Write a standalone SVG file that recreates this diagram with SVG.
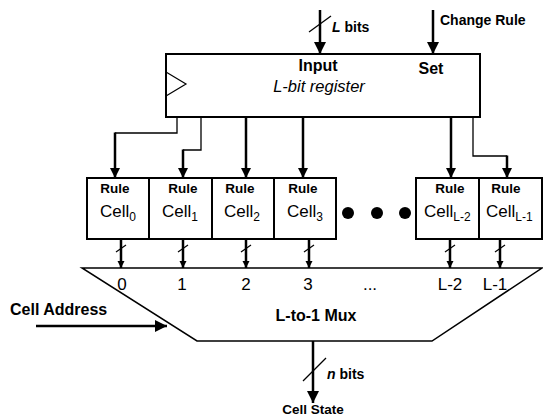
<svg xmlns="http://www.w3.org/2000/svg" width="543" height="417" viewBox="0 0 543 417">
<style>
.b{font-family:"Liberation Sans",Arial,sans-serif;font-weight:bold;fill:#000}
.r{font-family:"Liberation Sans",Arial,sans-serif;fill:#000}
.box{fill:#fff;stroke:#000;stroke-width:2}
.w{fill:none;stroke:#000;stroke-width:2.5}
.t{fill:none;stroke:#000;stroke-width:1.3}
.s{fill:none;stroke:#000;stroke-width:1.2}
.rule{font-size:13.5px}
.cell{font-size:17px}
.sub{font-size:12px}
</style>
<defs>
<marker id="ah" markerUnits="userSpaceOnUse" markerWidth="14" markerHeight="12" refX="12" refY="6" orient="auto"><path d="M0,0 L12,6 L0,12 Z" fill="#000"/></marker>
<marker id="am" markerUnits="userSpaceOnUse" markerWidth="11" markerHeight="11" refX="10" refY="5" orient="auto"><path d="M0,0 L10,5 L0,10 Z" fill="#000"/></marker>
<marker id="as" markerUnits="userSpaceOnUse" markerWidth="8" markerHeight="8" refX="7" refY="3.5" orient="auto"><path d="M0,0 L7,3.5 L0,7 Z" fill="#000"/></marker>
</defs>
<g id="register">
<rect class="box" x="166" y="54" width="314" height="63"/>
<polyline class="s" points="166,72 186,84 166,96"/>
<text class="b" x="318" y="71" font-size="16" text-anchor="middle">Input</text>
<text class="b" x="431" y="74" font-size="16" text-anchor="middle">Set</text>
<text class="r" x="319" y="92" font-size="16.5" font-style="italic" text-anchor="middle">L-bit register</text>
</g>
<g id="cells">
<g id="cell0"><rect class="box" x="87" y="178" width="62" height="61"/><text class="b rule" x="115" y="193" text-anchor="middle">Rule</text><text class="r cell" x="100" y="217">Cell<tspan class="sub" dy="4">0</tspan></text></g>
<g id="cell1"><rect class="box" x="149" y="178" width="63" height="61"/><text class="b rule" x="183" y="193" text-anchor="middle">Rule</text><text class="r cell" x="162" y="217">Cell<tspan class="sub" dy="4">1</tspan></text></g>
<g id="cell2"><rect class="box" x="212" y="178" width="62" height="61"/><text class="b rule" x="240" y="193" text-anchor="middle">Rule</text><text class="r cell" x="224" y="217">Cell<tspan class="sub" dy="4">2</tspan></text></g>
<g id="cell3"><rect class="box" x="274" y="178" width="62" height="61"/><text class="b rule" x="303" y="193" text-anchor="middle">Rule</text><text class="r cell" x="287" y="217">Cell<tspan class="sub" dy="4">3</tspan></text></g>
<g id="dots"><circle cx="348" cy="213" r="6"/><circle cx="377" cy="213" r="6"/><circle cx="405" cy="213" r="6"/></g>
<g id="cellL2"><rect class="box" x="416" y="178" width="63" height="61"/><text class="b rule" x="450" y="193" text-anchor="middle">Rule</text><text class="r cell" x="424" y="217">Cell<tspan class="sub" dy="4">L-2</tspan></text></g>
<g id="cellL1"><rect class="box" x="479" y="178" width="63" height="61"/><text class="b rule" x="506" y="193" text-anchor="middle">Rule</text><text class="r cell" x="486" y="217">Cell<tspan class="sub" dy="4">L-1</tspan></text></g>
</g>
<g id="mux">
<polygon fill="#fff" stroke="#000" stroke-width="1.5" points="82,268 542,268 432,341 197,341"/>
<g class="r" font-size="17" text-anchor="middle">
<text x="122" y="290">0</text><text x="182" y="290">1</text><text x="246" y="290">2</text><text x="308" y="290">3</text><text x="370" y="290">...</text><text x="450" y="290">L-2</text><text x="495" y="290">L-1</text>
</g>
<text class="b" x="316" y="321" font-size="16" text-anchor="middle">L-to-1 Mux</text>
</g>
<g id="labels">
<text class="b" x="332" y="32" font-size="14"><tspan font-style="italic">L</tspan> bits</text>
<text class="b" x="440" y="25" font-size="14">Change Rule</text>
<text class="b" x="10" y="315" font-size="16">Cell Address</text>
<text class="b" x="327" y="379" font-size="14"><tspan font-style="italic">n</tspan> bits</text>
<text class="b" x="313" y="414" font-size="13.5" text-anchor="middle">Cell State</text>
</g>
<g id="connectors">
<line class="w" x1="320" y1="10" x2="320" y2="54" marker-end="url(#ah)"/>
<line class="s" x1="309" y1="32" x2="331" y2="16"/>
<line class="w" x1="433" y1="10" x2="433" y2="54" marker-end="url(#ah)" stroke-width="2"/>
<polyline class="t" points="177,117 177,133 115,133"/>
<line class="w" x1="115" y1="132.5" x2="115" y2="178" marker-end="url(#am)"/>
<polyline class="t" points="201,117 201,150 183,150"/>
<line class="w" x1="183" y1="149.5" x2="183" y2="178" marker-end="url(#am)"/>
<line class="w" x1="246" y1="117" x2="246" y2="178" marker-end="url(#am)"/>
<line class="w" x1="303" y1="117" x2="303" y2="178" marker-end="url(#am)"/>
<line class="w" x1="451" y1="117" x2="451" y2="178" marker-end="url(#am)"/>
<polyline class="t" points="473,117 473,156 507,156"/>
<line class="w" x1="507" y1="155.5" x2="507" y2="178" marker-end="url(#am)"/>
<g>
<line class="w" stroke-width="2" x1="121" y1="239" x2="121" y2="268" marker-end="url(#as)"/>
<line class="w" stroke-width="2" x1="183" y1="239" x2="183" y2="268" marker-end="url(#as)"/>
<line class="w" stroke-width="2" x1="246" y1="239" x2="246" y2="268" marker-end="url(#as)"/>
<line class="w" stroke-width="2" x1="309" y1="239" x2="309" y2="268" marker-end="url(#as)"/>
<line class="w" stroke-width="2" x1="450" y1="239" x2="450" y2="268" marker-end="url(#as)"/>
<line class="w" stroke-width="2" x1="500" y1="239" x2="500" y2="268" marker-end="url(#as)"/>
<line class="s" x1="116" y1="252" x2="126" y2="245"/>
<line class="s" x1="178" y1="252" x2="188" y2="245"/>
<line class="s" x1="241" y1="252" x2="251" y2="245"/>
<line class="s" x1="304" y1="252" x2="314" y2="245"/>
<line class="s" x1="445" y1="252" x2="455" y2="245"/>
<line class="s" x1="495" y1="252" x2="505" y2="245"/>
</g>
<line class="w" x1="36" y1="326" x2="167" y2="326" marker-end="url(#ah)"/>
<line class="w" x1="313" y1="341" x2="313" y2="403" marker-end="url(#ah)"/>
<line class="s" x1="303" y1="381" x2="326" y2="358"/>
</g>
</svg>
